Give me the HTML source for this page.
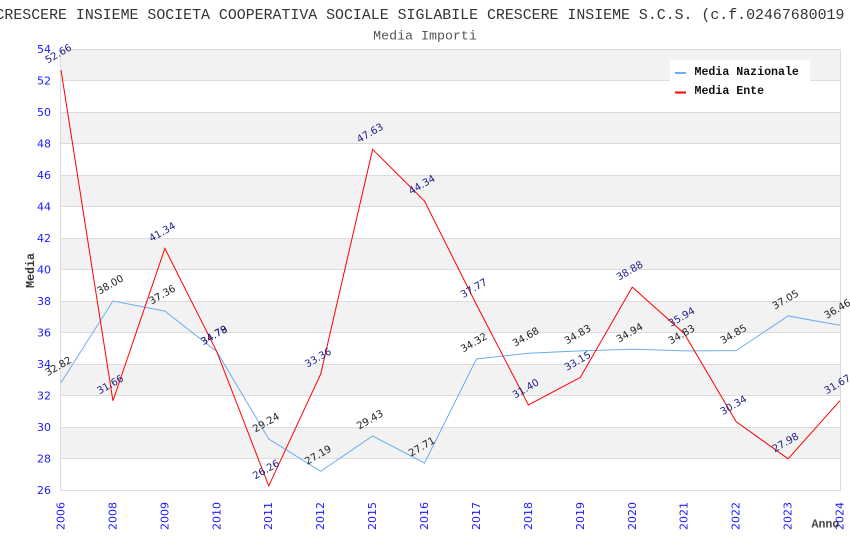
<!DOCTYPE html>
<html><head><meta charset="utf-8"><style>
html,body{margin:0;padding:0;background:#fff;width:850px;height:550px;overflow:hidden}
svg{display:block}
.t{font-family:"Liberation Mono",monospace}
.d{font-family:"DejaVu Sans","Liberation Sans",sans-serif}
</style></head><body>
<svg width="850" height="550" viewBox="0 0 850 550" xmlns="http://www.w3.org/2000/svg">
<rect width="850" height="550" fill="#fff"/>
<text class="t" x="-4.5" y="19" font-size="14.9" fill="#333">CRESCERE INSIEME SOCIETA COOPERATIVA SOCIALE SIGLABILE CRESCERE INSIEME S.C.S. (c.f.02467680019</text>
<text class="t" x="425" y="39.5" text-anchor="middle" font-size="13.3" fill="#555">Media Importi</text>
<!-- bands -->
<g fill="#f2f2f2">
<rect x="61" y="49" width="779" height="31.5"/>
<rect x="61" y="112" width="779" height="31.5"/>
<rect x="61" y="175" width="779" height="31.5"/>
<rect x="61" y="238" width="779" height="31.5"/>
<rect x="61" y="301" width="779" height="31.5"/>
<rect x="61" y="364" width="779" height="31.5"/>
<rect x="61" y="427" width="779" height="31.5"/>
</g>
<g stroke="#dcdcdc" stroke-width="1">
<line x1="61" y1="49.5" x2="840" y2="49.5"/>
<line x1="61" y1="80.5" x2="840" y2="80.5"/>
<line x1="61" y1="112.5" x2="840" y2="112.5"/>
<line x1="61" y1="143.5" x2="840" y2="143.5"/>
<line x1="61" y1="175.5" x2="840" y2="175.5"/>
<line x1="61" y1="206.5" x2="840" y2="206.5"/>
<line x1="61" y1="238.5" x2="840" y2="238.5"/>
<line x1="61" y1="269.5" x2="840" y2="269.5"/>
<line x1="61" y1="301.5" x2="840" y2="301.5"/>
<line x1="61" y1="332.5" x2="840" y2="332.5"/>
<line x1="61" y1="364.5" x2="840" y2="364.5"/>
<line x1="61" y1="395.5" x2="840" y2="395.5"/>
<line x1="61" y1="427.5" x2="840" y2="427.5"/>
<line x1="61" y1="458.5" x2="840" y2="458.5"/>
<line x1="61" y1="490.5" x2="840" y2="490.5"/>
<line x1="60.5" y1="49" x2="60.5" y2="491"/>
<line x1="840.5" y1="49" x2="840.5" y2="491"/>
</g>
<!-- y labels -->
<g class="d" font-size="11" fill="#1a1aff" text-anchor="end">
<text x="51" y="53">54</text>
<text x="51" y="84.5">52</text>
<text x="51" y="116">50</text>
<text x="51" y="147.5">48</text>
<text x="51" y="179">46</text>
<text x="51" y="210.5">44</text>
<text x="51" y="242">42</text>
<text x="51" y="273.5">40</text>
<text x="51" y="305">38</text>
<text x="51" y="336.5">36</text>
<text x="51" y="368">34</text>
<text x="51" y="399.5">32</text>
<text x="51" y="431">30</text>
<text x="51" y="462.5">28</text>
<text x="51" y="494">26</text>
</g>
<!-- x labels -->
<g class="d" font-size="11" fill="#1a1aff" text-anchor="end">
<text transform="translate(64.5,502) rotate(-90)">2006</text>
<text transform="translate(116.4,502) rotate(-90)">2008</text>
<text transform="translate(168.4,502) rotate(-90)">2009</text>
<text transform="translate(220.3,502) rotate(-90)">2010</text>
<text transform="translate(272.2,502) rotate(-90)">2011</text>
<text transform="translate(324.2,502) rotate(-90)">2012</text>
<text transform="translate(376.1,502) rotate(-90)">2015</text>
<text transform="translate(428,502) rotate(-90)">2016</text>
<text transform="translate(480,502) rotate(-90)">2017</text>
<text transform="translate(531.9,502) rotate(-90)">2018</text>
<text transform="translate(583.8,502) rotate(-90)">2019</text>
<text transform="translate(635.8,502) rotate(-90)">2020</text>
<text transform="translate(687.7,502) rotate(-90)">2021</text>
<text transform="translate(739.6,502) rotate(-90)">2022</text>
<text transform="translate(791.6,502) rotate(-90)">2023</text>
<text transform="translate(843.5,502) rotate(-90)">2024</text>
</g>
<text class="t" transform="translate(34,270.5) rotate(-90)" text-anchor="middle" font-size="11.6" font-weight="bold" fill="#333">Media</text>
<text class="t" x="811.5" y="527.5" font-size="11.6" font-weight="bold" fill="#444">Anno</text>
<!-- series -->
<polyline fill="none" stroke="#6aaef0" stroke-width="1" points="61,382.58 112.93,301 164.87,311.08 216.8,351.56 268.73,438.97 320.67,471.26 372.6,435.98 424.53,463.07 476.47,358.96 528.4,353.29 580.33,350.93 632.27,349.19 684.2,350.93 736.13,350.61 788.07,315.96 840,325.25"/>
<polyline fill="none" stroke="#ff0000" stroke-width="1" points="61,70.1 112.93,400.85 164.87,248.39 216.8,351.71 268.73,485.9 320.67,374.08 372.6,149.33 424.53,201.14 476.47,304.62 528.4,404.95 580.33,377.39 632.27,287.14 684.2,333.44 736.13,421.64 788.07,458.81 840,400.7"/>
<!-- labels nazionale -->
<g class="d" font-size="10" fill="#222" text-anchor="middle">
<text transform="translate(60,369.1) rotate(-30)">32.82</text>
<text transform="translate(111.9,287.5) rotate(-30)">38.00</text>
<text transform="translate(163.9,297.6) rotate(-30)">37.36</text>
<text transform="translate(215.8,338.1) rotate(-30)">34.79</text>
<text transform="translate(267.7,425.5) rotate(-30)">29.24</text>
<text transform="translate(319.7,457.8) rotate(-30)">27.19</text>
<text transform="translate(371.6,422.5) rotate(-30)">29.43</text>
<text transform="translate(423.5,449.6) rotate(-30)">27.71</text>
<text transform="translate(475.5,345.5) rotate(-30)">34.32</text>
<text transform="translate(527.4,339.8) rotate(-30)">34.68</text>
<text transform="translate(579.3,337.4) rotate(-30)">34.83</text>
<text transform="translate(631.3,335.7) rotate(-30)">34.94</text>
<text transform="translate(683.2,337.4) rotate(-30)">34.83</text>
<text transform="translate(735.1,337.1) rotate(-30)">34.85</text>
<text transform="translate(787.1,302.5) rotate(-30)">37.05</text>
<text transform="translate(839,311.8) rotate(-30)">36.46</text>
</g>
<!-- labels ente -->
<g class="d" font-size="10" fill="#20208a" text-anchor="middle">
<text transform="translate(60,56.6) rotate(-30)">52.66</text>
<text transform="translate(111.9,387.4) rotate(-30)">31.66</text>
<text transform="translate(163.9,234.9) rotate(-30)">41.34</text>
<text transform="translate(215.8,338.2) rotate(-30)">34.78</text>
<text transform="translate(267.7,472.4) rotate(-30)">26.26</text>
<text transform="translate(319.7,360.6) rotate(-30)">33.36</text>
<text transform="translate(371.6,135.8) rotate(-30)">47.63</text>
<text transform="translate(423.5,187.6) rotate(-30)">44.34</text>
<text transform="translate(475.5,291.1) rotate(-30)">37.77</text>
<text transform="translate(527.4,391.5) rotate(-30)">31.40</text>
<text transform="translate(579.3,363.9) rotate(-30)">33.15</text>
<text transform="translate(631.3,273.6) rotate(-30)">38.88</text>
<text transform="translate(683.2,319.9) rotate(-30)">35.94</text>
<text transform="translate(735.1,408.1) rotate(-30)">30.34</text>
<text transform="translate(787.1,445.3) rotate(-30)">27.98</text>
<text transform="translate(839,387.2) rotate(-30)">31.67</text>
</g>
<!-- legend -->
<rect x="670" y="60" width="140" height="40" fill="#fff"/>
<rect x="675" y="72" width="11" height="2" fill="#6aaef0"/>
<rect x="675" y="91.5" width="11" height="2" fill="#ff0000"/>
<text class="t" x="694.5" y="75" font-size="11.6" font-weight="bold" fill="#111">Media Nazionale</text>
<text class="t" x="694.5" y="94" font-size="11.6" font-weight="bold" fill="#111">Media Ente</text>
</svg>
</body></html>
